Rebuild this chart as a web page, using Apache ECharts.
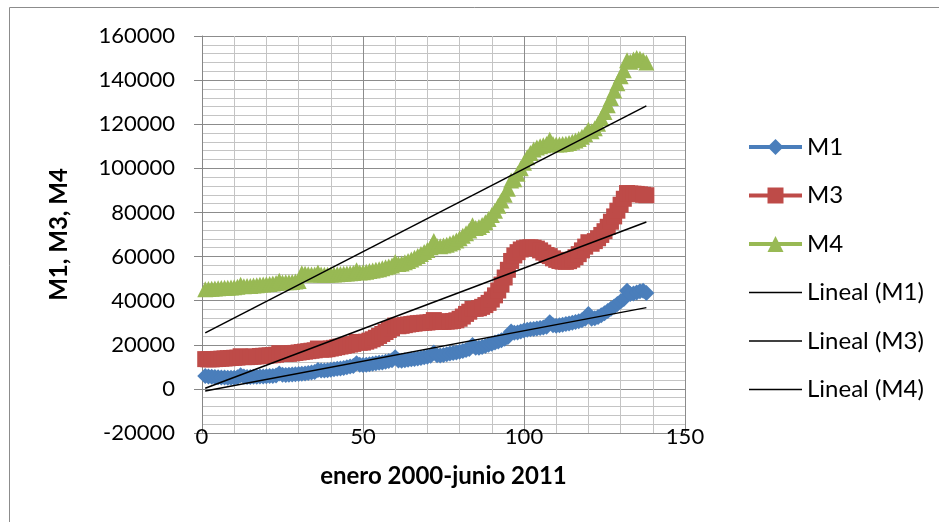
<!DOCTYPE html>
<html>
<head>
<meta charset="utf-8">
<script src="https://cdn.jsdelivr.net/npm/echarts@6/dist/echarts.min.js"></script>
<style>
  html, body { margin: 0; padding: 0; background: #ffffff; }
  #chart { width: 939px; height: 522px; }
</style>
</head>
<body>
<div id="chart"></div>
<script>
// Monthly money aggregates, January 2000 (x = 1) to June 2011 (x = 138)
const m1 = [
  5800, 5600, 5500, 5400, 5300, 5200, 5200, 5100, 5000, 5100, 5300, 6200,
  5600, 5400, 5400, 5500, 5500, 5600, 5600, 5700, 5800, 5900, 6100, 7000,
  6400, 6300, 6400, 6500, 6600, 6800, 6900, 7000, 7200, 7400, 7700, 8600,
  8300, 8300, 8500, 8700, 8900, 9100, 9300, 9500, 9800, 10100, 10400, 11600,
  10900, 10800, 11000, 11200, 11400, 11600, 11800, 12000, 12300, 12600, 13000, 14300,
  12900, 12800, 13000, 13200, 13400, 13600, 13800, 14000, 14300, 14600, 15000, 16500,
  15200, 15100, 15400, 15700, 16000, 16300, 16500, 16800, 17200, 17600, 18100, 19900,
  18700, 18600, 19000, 19500, 20000, 20500, 21000, 21500, 22100, 22700, 23500, 26000,
  25500, 25600, 26000, 26500, 26800, 27000, 27200, 27400, 27600, 27800, 28200, 30200,
  28800, 28600, 28800, 29100, 29400, 29700, 30000, 30300, 30700, 31100, 31800, 34000,
  31800, 32000, 32600, 33400, 34300, 35300, 36300, 37400, 38500, 39600, 40800, 44500,
  43000, 43300, 43700, 44300, 44500, 43500
];
const m3 = [
  13500, 13400, 13400, 13500, 13600, 13700, 13800, 13900, 14000, 14100, 14200, 14800,
  14400, 14400, 14500, 14600, 14700, 14900, 15000, 15100, 15200, 15300, 15500, 16200,
  15800, 15800, 15900, 16100, 16300, 16500, 16700, 16900, 17100, 17300, 17500, 18300,
  17800, 17800, 18000, 18300, 18600, 18900, 19200, 19500, 19800, 20100, 20400, 21300,
  20900, 21000, 21400, 21900, 22500, 23200, 24000, 24900, 25800, 26700, 27500, 28700,
  28400, 28600, 28900, 29200, 29400, 29600, 29800, 29900, 30000, 30100, 30300, 31200,
  30500, 30400, 30400, 30500, 30600, 30800, 31100, 31800, 32800, 34000, 35000, 36300,
  36300, 36600, 37200, 38000, 39000, 40500, 42400, 44600, 47300, 50500, 54000, 58000,
  60500, 62000, 63200, 63800, 64100, 64200, 64000, 63600, 62800, 61800, 60700, 60200,
  59200, 58500, 58000, 57700, 57600, 57900, 58600, 59700, 61100, 62800, 64500, 66500,
  65800, 67000, 68300, 69800, 71500, 73500, 75800, 78200, 80800, 83500, 86200, 88800,
  88600, 88500, 88400, 88200, 88000, 87800
];
const m4 = [
  45200, 45300, 45400, 45500, 45600, 45700, 45800, 45900, 46000, 46100, 46300, 47200,
  46500, 46600, 46700, 46900, 47000, 47200, 47300, 47500, 47600, 47800, 48000, 49000,
  48200, 48300, 48400, 48500, 48700, 48900, 52400, 52200, 52000, 51900, 51900, 52800,
  51900, 51800, 51800, 51900, 51900, 52000, 52100, 52200, 52300, 52400, 52600, 53800,
  52800, 52900, 53100, 53400, 53700, 54000, 54300, 54700, 55100, 55500, 56000, 57500,
  56600, 56900, 57400, 58000, 58700, 59500, 60300, 61200, 62100, 63000, 64200, 67000,
  64800, 64700, 65000, 65400, 65900, 66500, 67300, 68300, 69400, 70600, 71800, 74200,
  73000, 73400, 74300, 75500, 77000, 78800, 80800, 83000, 85400, 88000, 90700, 94500,
  95000, 97500, 100000, 102500, 105000, 107000, 108500, 109500, 110000, 110500, 111000, 113000,
  111000, 110800, 110800, 111000, 111200, 111500, 112000, 112600, 113300, 114300, 115500, 117500,
  116800, 118200, 120200, 122700, 125500, 128600, 131900, 135300, 138600, 141700, 144500, 149000,
  148300, 149300, 150000, 149700, 149000, 148000
];

const seriesNames = ['M1', 'M3', 'M4'];
const trendNames = ['Lineal (M1)', 'Lineal (M3)', 'Lineal (M4)'];
const xTicks = { min: 0, max: 150, step: 50 };
const yTicks = { min: -20000, max: 160000, step: 20000 };
const xTitle = 'enero 2000-junio 2011';
const yTitle = 'M1, M3, M4';

const colors = ['#4a7ebb', '#be4b48', '#98b954'];
const symbols = ['diamond', 'rect', 'triangle'];
const FONT = 'Lato';

function toPoints(values) {
  return values.map((v, i) => [i + 1, v]);
}

// Ordinary least-squares line over the series, drawn between the first and last x
function linearTrend(values) {
  const n = values.length;
  let sx = 0, sy = 0, sxx = 0, sxy = 0;
  values.forEach((y, i) => {
    const x = i + 1;
    sx += x; sy += y; sxx += x * x; sxy += x * y;
  });
  const slope = (n * sxy - sx * sy) / (n * sxx - sx * sx);
  const intercept = (sy - slope * sx) / n;
  return [[1, intercept + slope], [n, intercept + slope * n]];
}

const allValues = [m1, m3, m4];

const dataSeries = allValues.map((vals, k) => ({
  name: seriesNames[k],
  type: 'line',
  data: toPoints(vals),
  symbol: symbols[k],
  symbolSize: 16,
  showSymbol: true,
  lineStyle: { color: colors[k], width: 3 },
  itemStyle: { color: colors[k] },
  animation: false,
  z: 2 + k
}));

const trendSeries = allValues.map((vals, k) => ({
  name: trendNames[k],
  type: 'line',
  data: linearTrend(vals),
  symbol: 'none',
  lineStyle: { color: '#000000', width: 1.5 },
  itemStyle: { color: '#000000' },
  animation: false,
  z: 10
}));

const legendData = seriesNames.map(name => ({
  name: name,
  lineStyle: { width: 4 }
})).concat(trendNames.map(name => ({
  name: name,
  icon: 'path://M0,0H53V1.5H0Z'
})));

const chart = echarts.init(document.getElementById('chart'), null, { renderer: 'canvas' });
chart.setOption({
  backgroundColor: '#ffffff',
  animation: false,
  grid: { left: 202, right: 254, top: 36, bottom: 89, containLabel: false },
  graphic: [{
    type: 'rect',
    shape: { x: 9.5, y: 7.5, width: 940, height: 530 },
    style: { fill: 'none', stroke: '#8c8c8c', lineWidth: 1 },
    silent: true
  }],
  legend: {
    orient: 'vertical',
    left: 747,
    top: 135,
    padding: 0,
    itemWidth: 53,
    itemHeight: 20,
    itemGap: 24.5,
    data: legendData,
    textStyle: { fontFamily: FONT, fontSize: 24, color: '#000000' },
    selectedMode: false
  },
  xAxis: {
    type: 'value',
    min: xTicks.min,
    max: xTicks.max,
    interval: xTicks.step,
    name: xTitle,
    nameLocation: 'middle',
    nameGap: 31,
    nameMoveOverlap: false,
    nameTextStyle: { fontFamily: FONT, fontSize: 24, fontWeight: 'bold', color: '#000000' },
    axisLine: { show: false },
    axisTick: { show: false },
    axisLabel: {
      fontFamily: FONT, fontSize: 22, color: '#000000',
      verticalAlign: 'middle', margin: 4
    },
    splitLine: { show: true, lineStyle: { color: '#8c8c8c', width: 1 } },
    minorTick: { show: false, splitNumber: 5 },
    minorSplitLine: { show: true, lineStyle: { color: '#c4c4c4', width: 1 } }
  },
  yAxis: {
    type: 'value',
    min: yTicks.min,
    max: yTicks.max,
    interval: yTicks.step,
    name: yTitle,
    nameLocation: 'middle',
    nameGap: 131,
    nameMoveOverlap: false,
    nameRotate: 90,
    nameTextStyle: { fontFamily: FONT, fontSize: 24, fontWeight: 'bold', color: '#000000' },
    axisLine: { show: true, lineStyle: { color: '#868686', width: 1 } },
    axisTick: { show: true, inside: false, length: 8, lineStyle: { color: '#868686' } },
    axisLabel: {
      fontFamily: FONT, fontSize: 22, color: '#000000', margin: 27,
      formatter: v => String(v)
    },
    splitLine: { show: true, lineStyle: { color: '#8c8c8c', width: 1 } },
    minorTick: { show: false, splitNumber: 5 },
    minorSplitLine: { show: true, lineStyle: { color: '#c4c4c4', width: 1 } }
  },
  series: dataSeries.concat(trendSeries)
});
</script>
</body>
</html>
